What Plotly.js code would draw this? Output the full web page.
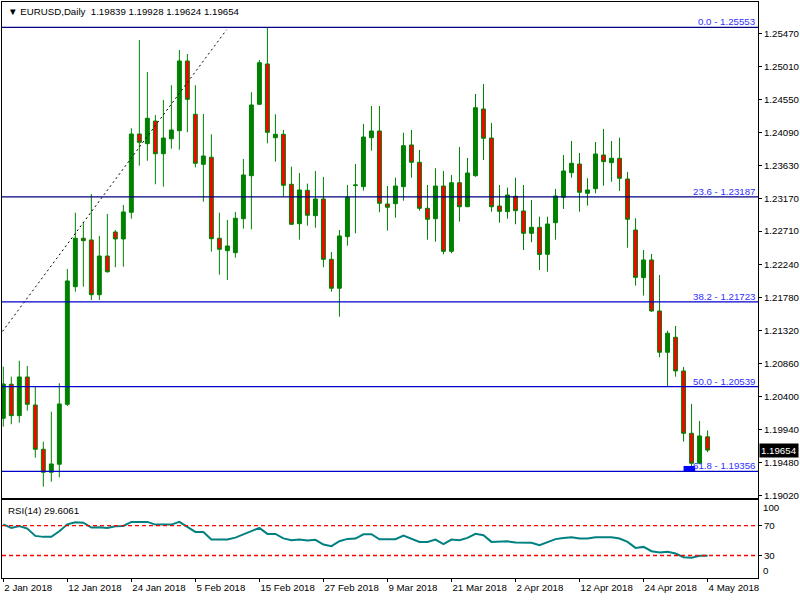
<!DOCTYPE html>
<html>
<head>
<meta charset="utf-8">
<script src="https://cdn.plot.ly/plotly-3.0.1.min.js"></script>
<style>
html,body{margin:0;padding:0;background:#fff;}
#chart{width:800px;height:600px;}
</style>
</head>
<body>
<div id="chart"></div>
<script>
// ---- data (daily EURUSD bars, 2 Jan 2018 .. 4 May 2018) ----
const opens = [1.20098,1.20572,1.20134,1.20674,1.20283,1.19665,1.19344,1.19456,1.20293,1.21934,
1.22610,1.22586,1.21822,1.22362,1.22697,1.22600,1.22972,1.24065,1.23930,1.24246,
1.23790,1.23999,1.24111,1.25084,1.24340,1.23642,1.23740,1.22610,1.22437,1.22409,
1.22883,1.23483,1.24480,1.25042,1.24013,1.24061,1.23363,1.22813,1.23279,1.22925,
1.23158,1.22316,1.21912,1.22632,1.23347,1.23330,1.24013,1.24107,1.23088,1.23092,
1.23330,1.23912,1.23670,1.23028,1.22883,1.23339,1.22428,1.23385,1.23050,1.23483,
1.24414,1.24009,1.23060,1.22981,1.23196,1.22991,1.22679,1.22763,1.22386,1.22827,
1.23182,1.23525,1.23646,1.23238,1.23302,1.23772,1.23665,1.23726,1.23437,1.22725,
1.22060,1.22307,1.21595,1.21019,1.21228,1.20758,1.19888,1.19470,1.19839];
const highs = [1.20818,1.20678,1.20901,1.20828,1.20539,1.19771,1.20190,1.20586,1.22181,1.22967,
1.22833,1.23228,1.22642,1.22949,1.22725,1.23074,1.24145,1.25377,1.24930,1.24330,
1.24540,1.24745,1.25237,1.25181,1.24745,1.24344,1.24061,1.22967,1.22865,1.22977,
1.23716,1.24647,1.25098,1.25553,1.24340,1.24121,1.23609,1.23521,1.23372,1.23549,
1.23465,1.22418,1.22725,1.23353,1.23646,1.24205,1.24456,1.24456,1.23339,1.23455,
1.24083,1.24121,1.23842,1.23353,1.23586,1.23549,1.23493,1.23884,1.23730,1.24623,
1.24763,1.24219,1.23353,1.23316,1.23455,1.23353,1.23144,1.22911,1.22911,1.23298,
1.23772,1.23967,1.23800,1.23447,1.23953,1.24135,1.23967,1.24013,1.23535,1.22889,
1.22446,1.22390,1.22097,1.21320,1.21386,1.20814,1.20297,1.20060,1.19928];
const lows = [1.19980,1.20014,1.20036,1.20204,1.19548,1.19143,1.19213,1.19274,1.20269,1.21864,
1.21934,1.21749,1.21749,1.22129,1.22205,1.22213,1.22883,1.23623,1.23692,1.23363,
1.23330,1.23860,1.23846,1.24089,1.23600,1.23120,1.22423,1.22102,1.22028,1.22339,
1.22744,1.22735,1.24470,1.23935,1.23679,1.23190,1.22795,1.22590,1.22785,1.22757,
1.22205,1.21864,1.21515,1.22506,1.22679,1.23274,1.23832,1.22972,1.22716,1.22897,
1.23134,1.23455,1.22995,1.22590,1.22562,1.22386,1.22400,1.22841,1.23046,1.23469,
1.23702,1.22981,1.22827,1.22883,1.22805,1.22446,1.22554,1.22167,1.22143,1.22590,
1.23018,1.23455,1.22981,1.23065,1.23238,1.23344,1.23399,1.23270,1.22478,1.21948,
1.21809,1.21585,1.20949,1.20548,1.20678,1.19771,1.19350,1.19460,1.19624];
const closes = [1.20576,1.20134,1.20674,1.20293,1.19665,1.19344,1.19460,1.20297,1.22014,1.22610,
1.22576,1.21822,1.22362,1.22143,1.22600,1.22977,1.24065,1.23949,1.24284,1.23790,
1.24009,1.24121,1.25084,1.24549,1.23656,1.23758,1.22604,1.22456,1.22502,1.22889,
1.23493,1.24470,1.25060,1.24089,1.24061,1.23349,1.22805,1.23284,1.22931,1.23158,
1.22316,1.21912,1.22642,1.23182,1.23353,1.24023,1.24107,1.23098,1.23042,1.23339,
1.23902,1.23670,1.23028,1.22875,1.23339,1.22428,1.23385,1.23050,1.23521,1.24432,
1.24005,1.23050,1.22986,1.23214,1.22995,1.22679,1.22763,1.22384,1.22809,1.23200,
1.23549,1.23656,1.23251,1.23284,1.23786,1.23679,1.23726,1.23447,1.22875,1.22065,
1.22307,1.21595,1.21019,1.21284,1.20758,1.19888,1.19470,1.19851,1.19654];
const rsi = [71.8,66.9,69.6,66.1,56.3,55.0,55.0,62.5,71.8,74.5,
74.0,67.4,67.8,67.0,69.2,69.6,75.0,75.0,75.0,71.4,
71.4,71.4,75.0,68.3,61.6,61.6,51.4,51.4,51.4,54.0,
58.5,62.0,67.0,59.0,59.0,53.0,50.5,51.4,50.0,51.0,
44.7,42.5,49.2,52.3,52.7,58.5,58.5,51.8,51.4,51.8,
56.7,53.0,48.3,48.3,51.4,45.2,51.4,50.5,53.6,59.0,
57.2,48.3,48.8,49.0,47.4,47.2,47.0,43.8,48.3,52.0,
53.6,54.5,52.7,52.7,54.5,54.5,54.5,52.7,48.3,40.3,
41.6,35.8,34.0,35.0,32.7,27.8,27.0,29.6,29.6061];

const dateTickIdx = [0,8,16,24,32,40,48,56,64,72,80,88];
const dateTickText = ['2 Jan 2018','12 Jan 2018','24 Jan 2018','5 Feb 2018','15 Feb 2018','27 Feb 2018',
  '9 Mar 2018','21 Mar 2018','2 Apr 2018','12 Apr 2018','24 Apr 2018','4 May 2018'];
const priceTicks = [1.19020,1.19480,1.19940,1.20400,1.20860,1.21320,1.21780,1.22240,1.22710,1.23170,
  1.23630,1.24090,1.24550,1.25010,1.25470];
const rsiLevels = [70, 30];
const fibLevels = [0.0, 23.6, 38.2, 50.0, 61.8];
const fibPrices = [1.25553, 1.23187, 1.21723, 1.20539, 1.19356];
const trendX = [-0.1, 27.9];
const trendY = [1.2131, 1.2552];
const markX = [85.0, 86.45];
const markY = [1.19362, 1.19432];
const symbol = 'EURUSD,Daily';
const rsiName = 'RSI(14)';

// ---- styles ----
const FONT = 'Liberation Sans, Arial, sans-serif';
const FS = 9.7;
const fibColors = ['#000080', '#000080', '#0000cc', '#0000cc', '#0000cc'];
const idx = closes.map((_, i) => i);
const last = closes.length - 1;
const f5 = v => v.toFixed(5);

const traces = [
  { // small anchor marker
    type: 'scatter', mode: 'lines', x: [markX[0], markX[1], markX[1], markX[0], markX[0]],
    y: [markY[0], markY[0], markY[1], markY[1], markY[0]], fill: 'toself',
    fillcolor: '#0000ff', line: {color: '#0000ff', width: 0}, hoverinfo: 'skip', xaxis: 'x', yaxis: 'y'
  },
  {
    type: 'scatter', mode: 'lines', x: trendX, y: trendY,
    line: {color: '#000000', width: 1, dash: '2px,3px'}, hoverinfo: 'skip', xaxis: 'x', yaxis: 'y'
  },
  {
    type: 'candlestick', x: idx, open: opens, high: highs, low: lows, close: closes,
    increasing: {line: {color: '#008000', width: 1}, fillcolor: '#008000'},
    decreasing: {line: {color: '#008000', width: 1}, fillcolor: '#ff0000'},
    whiskerwidth: 0, hoverinfo: 'skip', xaxis: 'x', yaxis: 'y'
  },
  {
    type: 'scatter', mode: 'lines', x: idx, y: rsi,
    line: {color: '#008080', width: 2}, hoverinfo: 'skip', xaxis: 'x2', yaxis: 'y2'
  }
];

const shapes = [];
fibPrices.forEach((p, i) => shapes.push({
  type: 'line', xref: 'paper', x0: 0, x1: 1, yref: 'y', y0: p, y1: p,
  line: {color: fibColors[i], width: 1.2}
}));
rsiLevels.forEach(v => shapes.push({
  type: 'line', xref: 'paper', x0: 0, x1: 1, yref: 'y2', y0: v, y1: v,
  line: {color: '#ff0000', width: 1.4, dash: '4px,3px'}
}));

const annotations = [];
annotations.push({
  xref: 'paper', yref: 'paper', x: 0, y: 1, xanchor: 'left', yanchor: 'top', xshift: 4, yshift: -2,
  text: '\u25BC\u00a0' + symbol + '\u00a0\u00a0' + [opens[last], highs[last], lows[last], closes[last]].map(f5).join(' '),
  showarrow: false, font: {family: FONT, size: FS, color: '#000'}
});
annotations.push({
  xref: 'paper', yref: 'y2 domain', x: 0, y: 1, xanchor: 'left', yanchor: 'top', xshift: 4, yshift: -3,
  text: rsiName + ' ' + rsi[last].toFixed(4),
  showarrow: false, font: {family: FONT, size: FS, color: '#000'}
});
fibPrices.forEach((p, i) => annotations.push({
  xref: 'paper', yref: 'y', x: 1, y: p, xanchor: 'right', yanchor: 'bottom', xshift: -1, yshift: -2,
  text: fibLevels[i].toFixed(1) + ' - ' + f5(p), showarrow: false,
  font: {family: FONT, size: FS, color: '#3030ff'}
}));
annotations.push({
  xref: 'paper', yref: 'y', x: 1, y: closes[last], xanchor: 'left', yanchor: 'middle', xshift: 1,
  text: f5(closes[last]), showarrow: false, bgcolor: '#000000', borderpad: 1,
  font: {family: FONT, size: FS, color: '#ffffff'}
});
annotations.push({
  xref: 'paper', yref: 'y2 domain', x: 1, y: 1, xanchor: 'left', yanchor: 'top', xshift: 3, yshift: 0,
  text: '100', showarrow: false, font: {family: FONT, size: FS, color: '#000'}
});
annotations.push({
  xref: 'paper', yref: 'y2 domain', x: 1, y: 0, xanchor: 'left', yanchor: 'bottom', xshift: 3, yshift: 0,
  text: '0', showarrow: false, font: {family: FONT, size: FS, color: '#000'}
});

const axisBase = {
  showline: true, mirror: true, linecolor: '#000', linewidth: 1, showgrid: false, zeroline: false,
  tickfont: {family: FONT, size: FS, color: '#000'}, tickcolor: '#000'
};

const layout = {
  width: 800, height: 600,
  margin: {l: 2, r: 42.3, t: 2, b: 22},
  paper_bgcolor: '#ffffff', plot_bgcolor: '#ffffff',
  showlegend: false,
  xaxis: Object.assign({}, axisBase, {
    domain: [0, 1], anchor: 'y', range: [-0.1625, 94.3], showticklabels: false, ticks: '',
    rangeslider: {visible: false}
  }),
  xaxis2: Object.assign({}, axisBase, {
    domain: [0, 1], anchor: 'y2', matches: 'x', range: [-0.1625, 94.3],
    tickmode: 'array', tickvals: dateTickIdx, ticktext: dateTickText,
    ticks: 'outside', ticklen: 3, ticklabelposition: 'outside right'
  }),
  yaxis: Object.assign({}, axisBase, {
    domain: [0.1389, 1], anchor: 'x', side: 'right', range: [1.18985, 1.25907],
    tickmode: 'array', tickvals: priceTicks, ticktext: priceTicks.map(f5),
    ticks: 'outside', ticklen: 3
  }),
  yaxis2: Object.assign({}, axisBase, {
    domain: [0, 0.1354], anchor: 'x2', side: 'right', range: [0, 104.3],
    tickmode: 'array', tickvals: rsiLevels, ticktext: rsiLevels.map(String),
    ticks: 'outside', ticklen: 3
  }),
  shapes: shapes,
  annotations: annotations
};

Plotly.newPlot('chart', traces, layout, {staticPlot: true, displayModeBar: false});
</script>
</body>
</html>
